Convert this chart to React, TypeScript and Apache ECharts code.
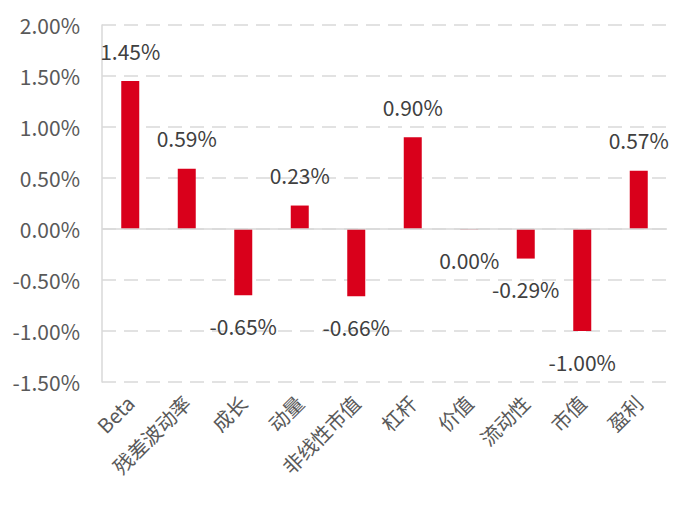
import React, { useEffect, useRef } from "react";
import * as echarts from "echarts";

const categories = ["Beta", "残差波动率", "成长", "动量", "非线性市值", "杠杆", "价值", "流动性", "市值", "盈利"];
const values = [1.45, 0.59, -0.65, 0.23, -0.66, 0.9, -0.004, -0.29, -1.0, 0.57];
const yTicks = { min: -1.5, max: 2.0, interval: 0.5 };

const FONT = "'Noto Sans CJK SC', 'Open Sans', sans-serif";

export default function App() {
  const ref = useRef<HTMLDivElement>(null);
  useEffect(() => {
    if (!ref.current) return;
    const chart = echarts.init(ref.current, undefined, { renderer: "svg" });
    const fmt = (v: number) => {
      const s = v.toFixed(2);
      return (s === "-0.00" ? "0.00" : s) + "%";
    };
    chart.setOption({
      animation: false,
      grid: { left: 94, right: 10, top: 17, bottom: 122 },
      xAxis: {
        type: "category",
        data: categories,
        axisLine: { show: false },
        axisTick: { show: false },
        axisLabel: {
          rotate: 45,
          interval: 0,
          color: "#595959",
          fontSize: 20,
          fontFamily: FONT,
          margin: 17,
        },
      },
      yAxis: {
        type: "value",
        min: yTicks.min,
        max: yTicks.max,
        interval: yTicks.interval,
        axisLine: { show: true, lineStyle: { color: "#d9d9d9", width: 1.5 } },
        axisTick: { show: false },
        axisLabel: {
          color: "#595959",
          fontSize: 21,
          fontFamily: FONT,
          margin: 22,
          formatter: (v: number) => v.toFixed(2) + "%",
        },
        splitLine: { lineStyle: { color: "#d9d9d9", type: [14, 8], width: 1.5 } },
      },
      series: [
        {
          type: "bar",
          barWidth: 18,
          data: values.map((v) => ({
            value: v,
            label: { position: v >= 0 ? "top" : "bottom" },
          })),
          itemStyle: { color: "#D9001B" },
          label: {
            show: true,
            distance: 20,
            color: "#404040",
            fontSize: 21,
            fontFamily: FONT,
            formatter: (p: any) => fmt(p.value),
          },
          markLine: {
            silent: true,
            symbol: "none",
            label: { show: false },
            lineStyle: { color: "#d9d9d9", type: "solid", width: 1.5 },
            data: [{ yAxis: 0 }],
          },
        },
      ],
    });
    return () => chart.dispose();
  }, []);
  return <div ref={ref} style={{ width: 669, height: 496 }} />;
}
